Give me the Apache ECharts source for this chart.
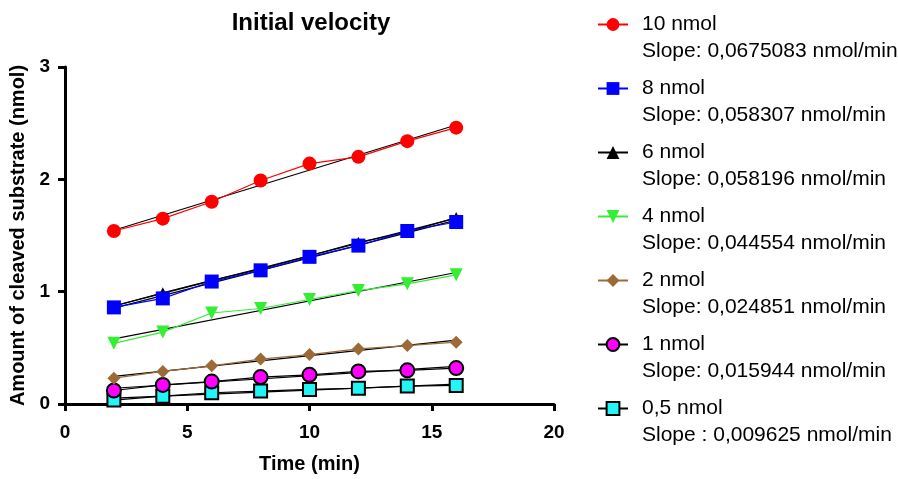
<!DOCTYPE html>
<html>
<head>
<meta charset="utf-8">
<script src="https://cdn.jsdelivr.net/npm/echarts@6/dist/echarts.min.js"></script>
<style>
  html, body { margin: 0; padding: 0; background: #fff; }
  #chart { width: 898px; height: 479px; }
</style>
</head>
<body>
<div id="chart"></div>
<script>
// time points (min)
var time = [2, 4, 6, 8, 10, 12, 14, 16];

// amount of cleaved substrate (nmol)
var nmol10 = [1.54, 1.65, 1.80, 1.99, 2.14, 2.20, 2.34, 2.46];
var nmol8 = [0.86, 0.94, 1.09, 1.19, 1.31, 1.41, 1.54, 1.62];
var nmol6 = [0.87, 0.99, 1.10, 1.20, 1.32, 1.44, 1.53, 1.66];
var nmol4 = [0.54, 0.64, 0.81, 0.85, 0.93, 1.01, 1.07, 1.15];
var nmol2 = [0.23, 0.29, 0.34, 0.40, 0.44, 0.49, 0.52, 0.55];
var nmol1 = [0.12, 0.17, 0.20, 0.24, 0.26, 0.29, 0.30, 0.32];
var nmol05 = [0.035, 0.07, 0.10, 0.115, 0.13, 0.14, 0.16, 0.165];

var names = ['10 nmol', '8 nmol', '6 nmol', '4 nmol', '2 nmol', '1 nmol', '0,5 nmol'];
var slopes = [
  'Slope: 0,0675083 nmol/min',
  'Slope: 0,058307 nmol/min',
  'Slope: 0,058196 nmol/min',
  'Slope: 0,044554 nmol/min',
  'Slope: 0,024851 nmol/min',
  'Slope: 0,015944 nmol/min',
  'Slope : 0,009625 nmol/min'
];

var xTicks = [0, 5, 10, 15, 20];
var yTicks = [0, 1, 2, 3];

var allData = [nmol10, nmol8, nmol6, nmol4, nmol2, nmol1, nmol05];
var looks = [
  { color: '#ff0000', line: '#ff0000', symbol: 'circle', size: 14 },
  { color: '#0000ff', line: '#0000ff', symbol: 'rect', size: 14 },
  { color: '#000000', line: '#000000', symbol: 'triangle', size: 11 },
  { color: '#33ee33', line: '#33ee33', symbol: 'triangle', size: 13, rotate: 180 },
  { color: '#9c6a36', line: '#9c6a36', symbol: 'diamond', size: 13 },
  { color: '#ff00ff', line: '#000000', symbol: 'circle', size: 14, border: true },
  { color: '#22f5f5', line: '#000000', symbol: 'rect', size: 13, border: true }
];

// least-squares line through each set
function fit(ys) {
  var n = time.length, sx = 0, sy = 0, sxx = 0, sxy = 0;
  for (var i = 0; i < n; i++) {
    sx += time[i]; sy += ys[i]; sxx += time[i] * time[i]; sxy += time[i] * ys[i];
  }
  var b = (n * sxy - sx * sy) / (n * sxx - sx * sx);
  var a = (sy - b * sx) / n;
  var x0 = time[0], x1 = time[n - 1];
  return [[x0, a + b * x0], [x1, a + b * x1]];
}

var series = [];
allData.forEach(function (ys, k) {
  series.push({
    name: names[k] + ' fit',
    type: 'line',
    data: fit(ys),
    symbol: 'none',
    lineStyle: { color: '#000', width: 1.2 },
    z: 2,
    silent: true
  });
});
allData.forEach(function (ys, k) {
  var lk = looks[k];
  series.push({
    name: names[k],
    type: 'line',
    data: time.map(function (t, i) { return [t, ys[i]]; }),
    symbol: lk.symbol,
    symbolSize: lk.size,
    symbolRotate: lk.rotate || 0,
    showAllSymbol: true,
    lineStyle: { color: lk.line, width: 1.2 },
    itemStyle: {
      color: lk.color,
      borderColor: lk.border ? '#000' : lk.color,
      borderWidth: lk.border ? 2 : 0
    },
    z: 20 - k
  });
});

var chart = echarts.init(document.getElementById('chart'));
chart.setOption({
  animation: false,
  backgroundColor: '#fff',
  textStyle: { fontFamily: 'Liberation Sans' },
  title: {
    text: 'Initial velocity',
    left: 311,
    top: 11,
    padding: 0,
    textAlign: 'center',
    textStyle: { fontSize: 24, fontWeight: 'bold', color: '#000', fontFamily: 'Liberation Sans' }
  },
  grid: { left: 65, right: 344, top: 67, bottom: 71, containLabel: false },
  xAxis: {
    type: 'value',
    min: xTicks[0],
    max: xTicks[xTicks.length - 1],
    interval: 5,
    name: 'Time (min)',
    nameLocation: 'middle',
    nameGap: 50,
    nameTextStyle: { fontSize: 20, fontWeight: 'bold', color: '#000' },
    axisLine: { lineStyle: { color: '#000', width: 3 } },
    axisTick: { show: true, length: 7, lineStyle: { color: '#000', width: 3 } },
    axisLabel: { fontSize: 19, fontWeight: 'bold', color: '#000', margin: 19 },
    splitLine: { show: false }
  },
  yAxis: {
    type: 'value',
    min: yTicks[0],
    max: yTicks[yTicks.length - 1],
    interval: 1,
    name: 'Amount of cleaved substrate (nmol)',
    nameLocation: 'middle',
    nameGap: 30,
    nameTextStyle: { fontSize: 20, fontWeight: 'bold', color: '#000' },
    axisLine: { lineStyle: { color: '#000', width: 3 } },
    axisTick: { show: true, length: 7, lineStyle: { color: '#000', width: 3 } },
    axisLabel: { fontSize: 19, fontWeight: 'bold', color: '#000', margin: 15 },
    splitLine: { show: false }
  },
  legend: {
    orient: 'vertical',
    left: 597,
    top: -16,
    padding: 0,
    itemWidth: 30,
    itemHeight: 16,
    itemGap: -17,
    data: names,
    selectedMode: false,
    formatter: function (name) {
      // blank first line keeps the marker level with the name line
      return ' \n' + name + '\n' + slopes[names.indexOf(name)];
    },
    textStyle: {
      fontSize: 21,
      color: '#000',
      lineHeight: 27,
      padding: [0, 0, 0, 9]
    }
  },
  series: series
});
</script>
</body>
</html>
